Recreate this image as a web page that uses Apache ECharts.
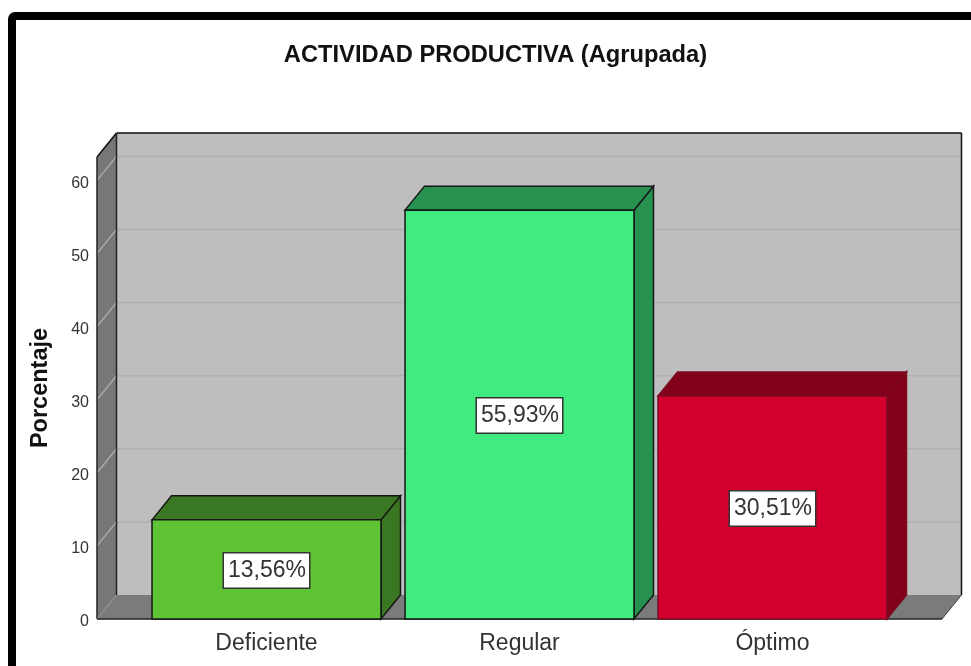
<!DOCTYPE html>
<html>
<head>
<meta charset="utf-8">
<style>
  html, body { margin: 0; padding: 0; background: #fff; }
  #chart { width: 971px; height: 666px; }
</style>
<script src="https://cdn.jsdelivr.net/npm/echarts@6/dist/echarts.min.js"></script>
</head>
<body>
<div id="chart"></div>
<script>
const categories = ['Deficiente', 'Regular', 'Óptimo']
const values = [13.56, 55.93, 30.51]
const valueLabels = ['13,56%', '55,93%', '30,51%']
const yTicks = [0, 10, 20, 30, 40, 50, 60]
const frontColors = ['#5ec436', '#40eb80', '#d3002d']
const darkColors = ['#3a7722', '#279150', '#820019']
const edgeColors = ['#161616', '#161616', '#7a0a20']

const font = '"Liberation Sans", Arial, sans-serif'
const depthX = 19.5
const depthY = -24
const sideGap = 43

function poly(points, fill, stroke, lineWidth) {
  return {
    type: 'polygon',
    shape: { points: points },
    style: { fill: fill, stroke: stroke || null, lineWidth: lineWidth || 0 }
  }
}

function line(x1, y1, x2, y2, color, width) {
  return {
    type: 'line',
    shape: { x1: x1, y1: y1, x2: x2, y2: y2 },
    style: { stroke: color, lineWidth: width }
  }
}

// back wall, side wall and floor
function renderWalls(params, api) {
  const l = params.coordSys.x - sideGap
  const r = params.coordSys.x + params.coordSys.width + sideGap
  const top = params.coordSys.y
  const bottom = params.coordSys.y + params.coordSys.height
  const children = [
    poly([[l + depthX, top + depthY], [r + depthX, top + depthY], [r + depthX, bottom + depthY], [l + depthX, bottom + depthY]], '#bebebe'),
    poly([[l, top], [l + depthX, top + depthY], [l + depthX, bottom + depthY], [l, bottom]], '#777777'),
    poly([[l, bottom], [l + depthX, bottom + depthY], [r + depthX, bottom + depthY], [r, bottom]], '#7b7b7b')
  ]
  yTicks.forEach(function (t) {
    if (t === 0) return
    const y = api.coord([0, t])[1]
    children.push(line(l, y, l + depthX, y + depthY, '#a9a9a9', 1.5))
    children.push(line(l + depthX, y + depthY, r + depthX, y + depthY, '#b0b0b0', 1.5))
  })
  children.push(line(l, top, l + depthX, top + depthY, '#111', 1.5))
  children.push(line(l + depthX, top + depthY, r + depthX, top + depthY, '#111', 1.5))
  children.push(line(r + depthX, top + depthY, r + depthX, bottom + depthY, '#111', 1.5))
  children.push(line(r + depthX, bottom + depthY, r, bottom, '#444', 1))
  children.push(line(l + depthX, top + depthY, l + depthX, bottom + depthY, '#222', 1.5))
  children.push(line(l, top, l, bottom, '#222', 1.5))
  children.push(line(l, bottom, l + depthX, bottom + depthY, '#999', 1))
  children.push(line(l, bottom, r, bottom, '#222', 1.5))
  return { type: 'group', children: children }
}

function renderBar(params, api) {
  const i = params.dataIndex
  const p = api.coord([api.value(0), api.value(1)])
  const base = api.coord([api.value(0), 0])
  const w = api.size([1, 0])[0] * 0.905
  const x0 = p[0] - w / 2
  const x1 = p[0] + w / 2
  const edge = edgeColors[i]
  return {
    type: 'group',
    children: [
      poly([[x1, p[1]], [x1 + depthX, p[1] + depthY], [x1 + depthX, base[1] + depthY], [x1, base[1]]], darkColors[i], edge, 1.5),
      poly([[x0, p[1]], [x0 + depthX, p[1] + depthY], [x1 + depthX, p[1] + depthY], [x1, p[1]]], darkColors[i], edge, 1.5),
      poly([[x0, p[1]], [x1, p[1]], [x1, base[1]], [x0, base[1]]], frontColors[i], edge, 1.5),
      {
        type: 'text',
        x: p[0],
        y: (p[1] + base[1]) / 2 + 1,
        style: {
          text: valueLabels[i],
          font: '23px ' + font,
          fill: '#333',
          align: 'center',
          verticalAlign: 'middle',
          backgroundColor: '#fff',
          borderColor: '#333',
          borderWidth: 1.5,
          padding: [6, 3, 5, 4]
        }
      }
    ]
  }
}

const chart = echarts.init(document.getElementById('chart'), null, { renderer: 'canvas' })
chart.setOption({
  backgroundColor: '#fff',
  animation: false,
  title: {
    text: 'ACTIVIDAD PRODUCTIVA (Agrupada)',
    left: 490.5,
    top: 38,
    textAlign: 'center',
    textStyle: { fontFamily: font, fontSize: 23.7, fontWeight: 'bold', color: '#111' }
  },
  grid: { left: 140, right: 72, top: 157, bottom: 47 },
  xAxis: {
    type: 'category',
    data: categories,
    axisLine: { show: false },
    axisTick: { show: false },
    axisLabel: { fontFamily: font, fontSize: 23, color: '#333', margin: 13 }
  },
  yAxis: {
    type: 'value',
    min: 0,
    max: 63.2,
    interval: 10,
    offset: sideGap,
    axisLine: { show: false },
    axisTick: { show: false },
    splitLine: { show: false },
    axisLabel: {
      color: '#333',
      margin: 8,
      showMaxLabel: false,
      formatter: '{v|{value}}',
      rich: { v: { fontFamily: font, fontSize: 16, color: '#333', padding: [6, 0, 0, 0] } }
    },
    name: 'Porcentaje',
    nameLocation: 'middle',
    nameGap: 44,
    nameTextStyle: { fontFamily: font, fontSize: 23.5, fontWeight: 'bold', color: '#111' }
  },
  series: [
    {
      type: 'custom',
      z: 1,
      silent: true,
      renderItem: renderWalls,
      data: [[0, 0]]
    },
    {
      type: 'custom',
      z: 2,
      renderItem: renderBar,
      encode: { x: 0, y: 1 },
      data: values.map(function (v, i) { return [i, v] })
    }
  ],
  graphic: [
    {
      type: 'rect',
      shape: { x: 12, y: 16, width: 1000, height: 700, r: 3 },
      style: { fill: null, stroke: '#000', lineWidth: 8 },
      z: 10
    }
  ]
})
</script>
</body>
</html>
